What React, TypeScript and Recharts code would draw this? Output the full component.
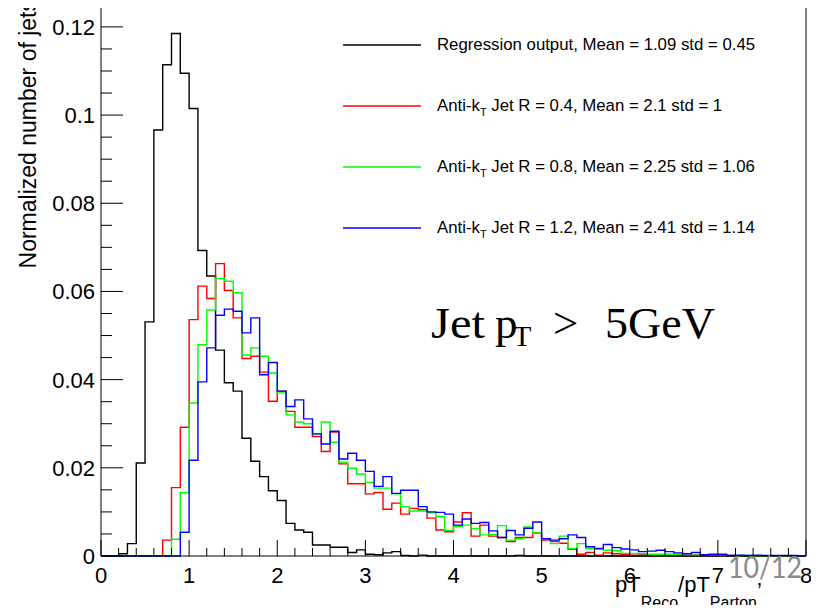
import { LineChart, Line, XAxis, YAxis, ReferenceLine, Legend } from "recharts";

// histogram bins: 80 bins of width 0.1 from 0 to 8
const binWidth = 0.1;

const regression = [
  0, 0, 0.0005, 0.0028, 0.0211, 0.0531, 0.0966, 0.1114, 0.1185, 0.1095,
  0.1015, 0.0693, 0.0635, 0.0467, 0.0393, 0.0374, 0.0267, 0.0215, 0.018, 0.0148,
  0.0126, 0.0074, 0.0059, 0.0054, 0.0025, 0.0025, 0.002, 0.002, 0.0008, 0.0014,
  0.0004, 0.0003, 0.0007, 0.001, 0.0001, 0, 0.0002, 0, 0, 0,
  0, 0, 0, 0, 0, 0, 0, 0.0001, 0, 0,
  0, 0, 0, 0, 0, 0, 0, 0, 0, 0,
  0, 0, 0, 0, 0, 0, 0, 0, 0, 0,
  0, 0, 0, 0, 0, 0, 0, 0, 0, 0,
];

const antiKt04 = [
  0, 0, 0, 0, 0, 0, 0, 0.0036, 0.0155, 0.0292,
  0.0536, 0.0612, 0.0584, 0.0663, 0.0602, 0.054, 0.0448, 0.0453, 0.0417, 0.0351,
  0.0374, 0.0328, 0.0292, 0.0292, 0.0271, 0.0237, 0.0281, 0.0209, 0.0164, 0.0164,
  0.0141, 0.0144, 0.0106, 0.012, 0.0095, 0.0108, 0.0105, 0.0086, 0.0059, 0.0055,
  0.0077, 0.0098, 0.0045, 0.007, 0.0045, 0.0042, 0.0033, 0.0042, 0.0042, 0.0052,
  0.0036, 0.0033, 0.0029, 0.0015, 0.0004, 0.0008, 0.0002, 0.0007, 0.0005, 0.0004,
  0.0005, 0.0003, 0.0003, 0.0002, 0.0003, 0.0002, 0.0001, 0.0002, 0.0001, 0.0001,
  0, 0.0001, 0, 0, 0, 0, 0, 0, 0, 0,
];

const antiKt08 = [
  0, 0, 0, 0, 0, 0, 0, 0, 0.0038, 0.0144,
  0.0347, 0.0479, 0.0558, 0.0629, 0.0623, 0.0597, 0.0456, 0.0472, 0.0453, 0.0415,
  0.037, 0.032, 0.0304, 0.03, 0.0277, 0.0304, 0.0258, 0.0213, 0.0199, 0.0186,
  0.0167, 0.0154, 0.0154, 0.0141, 0.0112, 0.0102, 0.0102, 0.0098, 0.0089, 0.0058,
  0.0067, 0.007, 0.0062, 0.0048, 0.0049, 0.0069, 0.0036, 0.0039, 0.0066, 0.0052,
  0.0038, 0.0028, 0.0045, 0.0017, 0.0028, 0.0017, 0.0016, 0.0013, 0.0012, 0.0006,
  0.0006, 0.0005, 0.0004, 0.0004, 0.0004, 0.0004, 0.0002, 0.0002, 0.0002, 0.0002,
  0.0001, 0.0001, 0, 0.0001, 0, 0, 0, 0, 0, 0,
];

const antiKt12 = [
  0, 0, 0, 0, 0, 0, 0, 0, 0, 0.0054,
  0.0217, 0.0395, 0.0472, 0.0546, 0.056, 0.0555, 0.0506, 0.054, 0.0411, 0.0439,
  0.0374, 0.0339, 0.0354, 0.0311, 0.0277, 0.0254, 0.0283, 0.022, 0.0233, 0.0217,
  0.0192, 0.0158, 0.018, 0.0142, 0.0149, 0.0149, 0.0112, 0.01, 0.0099, 0.0095,
  0.007, 0.0084, 0.0074, 0.0076, 0.0057, 0.0042, 0.0058, 0.0048, 0.0063, 0.0077,
  0.0039, 0.0036, 0.0039, 0.0048, 0.0042, 0.0021, 0.0017, 0.0026, 0.0019, 0.0016,
  0.0014, 0.001, 0.0011, 0.0013, 0.001, 0.0007, 0.0005, 0.0008, 0.0003, 0.0004,
  0.0004, 0.0001, 0.0002, 0.0001, 0.0002, 0.0001, 0.0001, 0.0001, 0.0001, 0,
];

const xLabels = [0, 1, 2, 3, 4, 5, 6, 7, 8];
const yLabels = [0, 0.02, 0.04, 0.06, 0.08, 0.1, 0.12];
const xMinorStep = 0.2;
const yMinorStep = 0.005;
const yMax = 0.1261;

const series = [
  { key: "reg", color: "#000000", label: "Regression output, Mean = 1.09 std = 0.45" },
  { key: "r04", color: "#ff0000", label: "Anti-k_T Jet R = 0.4, Mean = 2.1 std = 1" },
  { key: "r08", color: "#00ff00", label: "Anti-k_T Jet R = 0.8, Mean = 2.25 std = 1.06" },
  { key: "r12", color: "#0000ff", label: "Anti-k_T Jet R = 1.2, Mean = 2.41 std = 1.14" },
];

const rows = regression.map((_, i) => ({
  x: Math.round(i * binWidth * 10) / 10,
  reg: regression[i],
  r04: antiKt04[i],
  r08: antiKt08[i],
  r12: antiKt12[i],
}));
// closing edge of the last bin
rows.push({ x: 8, reg: 0, r04: 0, r08: 0, r12: 0 });

const xTicks = Array.from({ length: Math.round(8 / xMinorStep) + 1 }, (_, i) => +(i * xMinorStep).toFixed(2));
const yTicks = Array.from({ length: Math.floor(yMax / yMinorStep + 1e-9) + 1 }, (_, i) => +(i * yMinorStep).toFixed(3));

const sans = "'Liberation Sans', Arial, Helvetica, sans-serif";

const isMajor = (v: number, list: number[]) => list.some((m) => Math.abs(m - v) < 1e-6);

function XTick(props: any) {
  const { x, y, payload } = props;
  const major = isMajor(payload.value, xLabels);
  return (
    <g>
      <line x1={x} x2={x} y1={y} y2={y - (major ? 16 : 8)} stroke="#000" />
      {major && (
        <text x={x} y={y + 27} textAnchor="middle" fontSize={22} fontFamily={sans} fill="#000">
          {Math.round(payload.value)}
        </text>
      )}
    </g>
  );
}

function YTick(props: any) {
  const { x, y, payload } = props;
  const major = isMajor(payload.value, yLabels);
  return (
    <g>
      <line x1={x} x2={x + (major ? 22 : 11)} y1={y} y2={y} stroke="#000" />
      {major && (
        <text x={x - 6} y={y + 8} textAnchor="end" fontSize={22} fontFamily={sans} fill="#000">
          {String(payload.value)}
        </text>
      )}
    </g>
  );
}

function renderLabel(label: string) {
  const parts = label.split("_T");
  if (parts.length === 1) return label;
  return (
    <>
      {parts[0]}
      <span style={{ fontSize: 11, position: "relative", top: 5 }}>T</span>
      {parts[1]}
    </>
  );
}

function HistLegend() {
  return (
    <div style={{ fontFamily: sans, fontSize: 16.8, color: "#000" }}>
      {series.map((s) => (
        <div key={s.key} style={{ display: "flex", alignItems: "center", height: 61 }}>
          <svg width={78} height={4} style={{ display: "block" }}>
            <line x1={0} x2={78} y1={2} y2={2} stroke={s.color} strokeWidth={1.3} />
          </svg>
          <span style={{ marginLeft: 16, whiteSpace: "nowrap" }}>{renderLabel(s.label)}</span>
        </div>
      ))}
    </div>
  );
}

export default function App() {
  return (
    <div style={{ position: "relative", width: 819, height: 613, margin: -8, background: "#fff" }}>
      <LineChart width={819} height={613} data={rows} margin={{ top: 0, right: 13, bottom: 0, left: 0 }}>
        <XAxis
          dataKey="x"
          type="number"
          domain={[0, 8]}
          ticks={xTicks}
          interval={0}
          height={57}
          tickSize={0}
          tickMargin={0}
          tickLine={false}
          tick={<XTick />}
          axisLine={{ stroke: "#000" }}
        />
        <YAxis
          type="number"
          domain={[0, yMax]}
          ticks={yTicks}
          interval={0}
          width={101}
          tickSize={0}
          tickMargin={0}
          tickLine={false}
          tick={<YTick />}
          axisLine={{ stroke: "#000" }}
        />
        <ReferenceLine x={8} stroke="#000" strokeWidth={1} ifOverflow="visible" />
        {series.map((s) => (
          <Line
            key={s.key}
            type="stepAfter"
            dataKey={s.key}
            name={s.label}
            stroke={s.color}
            strokeWidth={1.4}
            dot={false}
            activeDot={false}
            isAnimationActive={false}
          />
        ))}
        <Legend
          layout="vertical"
          align="center"
          verticalAlign="middle"
          content={<HistLegend />}
          wrapperStyle={{ left: 343, top: 14, width: 460 }}
        />
      </LineChart>
      <svg
        width={819}
        height={613}
        style={{ position: "absolute", left: 0, top: 0, pointerEvents: "none" }}
      >
        <text
          transform="translate(36,0) rotate(-90)"
          textAnchor="end"
          fontSize={23}
          fontFamily={sans}
          fill="#000"
        >
          Normalized number of jets
        </text>
        <text fontFamily={sans} fill="#000">
          <tspan x={615} y={592} fontSize={22}>pT</tspan>
          <tspan y={608} fontSize={16}>Reco</tspan>
          <tspan y={592} fontSize={22}>/pT</tspan>
          <tspan y={608} fontSize={16}>Parton</tspan>
          <tspan y={598} fontSize={22}>’</tspan>
        </text>
        <text fontFamily="'Liberation Serif', 'DejaVu Serif', serif" fill="#000">
          <tspan x={431} y={338} fontSize={45} textLength={54} lengthAdjust="spacingAndGlyphs">Jet</tspan>
          <tspan x={495} y={338} fontSize={45}>p</tspan>
          <tspan x={513} y={346} fontSize={30}>T</tspan>
          <tspan x={553} y={338} fontSize={45}>&gt;</tspan>
          <tspan x={605} y={338} fontSize={45} textLength={110} lengthAdjust="spacingAndGlyphs">5GeV</tspan>
        </text>
        <text
          x={728}
          y={578}
          fontSize={31}
          fontFamily="Lato, 'Open Sans', sans-serif"
          fill="#8a8a8a"
          textLength={74}
          lengthAdjust="spacingAndGlyphs"
        >
          10/12
        </text>
      </svg>
    </div>
  );
}
